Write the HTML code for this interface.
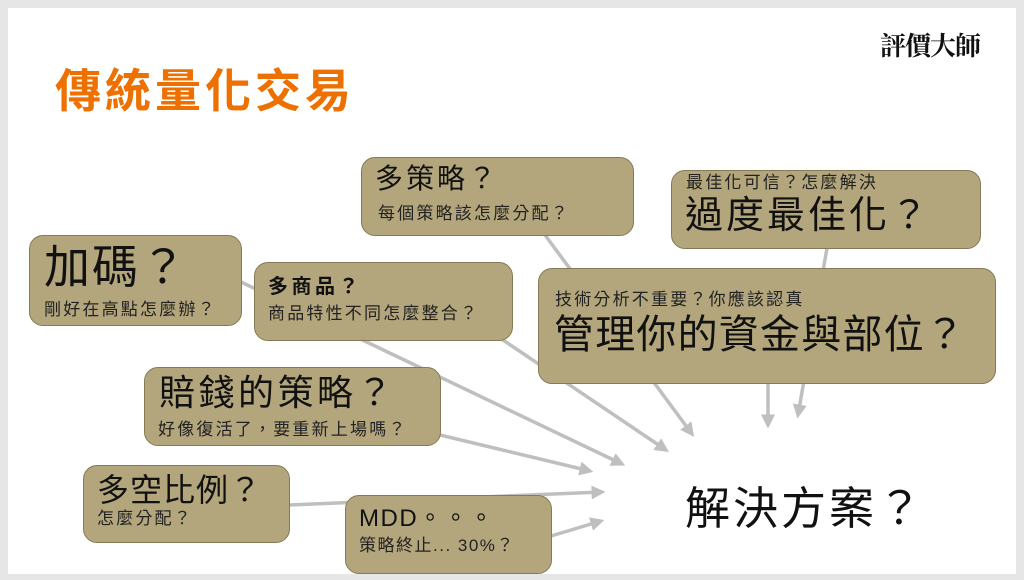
<!DOCTYPE html>
<html><head><meta charset="utf-8"><style>
*{margin:0;padding:0;box-sizing:border-box}
body{width:1024px;height:580px;background:#e6e6e6;position:relative;overflow:hidden;font-family:"Liberation Sans","Noto Sans CJK TC",sans-serif;color:#111}
#slide{position:absolute;left:8px;top:8px;width:1008px;height:566px;background:#fff}
.b{position:absolute;background:#b3a67c;border:1px solid #857a55;border-radius:14px}
.t{position:absolute;white-space:nowrap;line-height:1}
.s{font-size:17px;letter-spacing:2.2px;color:#222}
svg{position:absolute;left:0;top:0}
</style></head><body>
<div id="slide"></div>
<svg width="1024" height="580">
<defs><marker id="a" markerWidth="4" markerHeight="4" refX="3" refY="2" orient="auto" markerUnits="strokeWidth"><path d="M0,0 L4,2 L0,4z" fill="#bfbfbf"/></marker></defs>
<g stroke="#bfbfbf" stroke-width="3.5" fill="none" marker-end="url(#a)">
<line x1="241" y1="282" x2="622" y2="464"/>
<line x1="500" y1="338" x2="666" y2="450"/>
<line x1="545" y1="235" x2="692" y2="434"/>
<line x1="440" y1="435" x2="590" y2="471"/>
<line x1="289" y1="505" x2="602" y2="492"/>
<line x1="551" y1="536" x2="601" y2="521"/>
<line x1="768" y1="383" x2="768" y2="425"/>
<line x1="827" y1="248" x2="798" y2="415"/>
</g>
</svg>
<div class="t" style="left:55px;top:68px;font-size:46px;font-weight:bold;color:#ee7000;letter-spacing:4px">傳統量化交易</div>
<div class="t" style="left:880px;top:32px;font-size:26px;font-family:'Noto Serif CJK SC',serif;font-weight:bold;letter-spacing:-1px">評價大師</div>

<div class="b" style="left:361px;top:157px;width:273px;height:79px"></div>
<div class="t" style="left:375px;top:165px;font-size:28px;letter-spacing:3px">多策略？</div>
<div class="t s" style="left:378px;top:205px">每個策略該怎麼分配？</div>

<div class="b" style="left:671px;top:170px;width:310px;height:79px"></div>
<div class="t s" style="left:686px;top:174px">最佳化可信？怎麼解決</div>
<div class="t" style="left:685px;top:197px;font-size:38px;letter-spacing:3px">過度最佳化？</div>

<div class="b" style="left:29px;top:235px;width:213px;height:91px"></div>
<div class="t" style="left:44px;top:244px;font-size:46px;letter-spacing:2px">加碼？</div>
<div class="t s" style="left:44px;top:301px">剛好在高點怎麼辦？</div>

<div class="b" style="left:254px;top:262px;width:259px;height:79px"></div>
<div class="t" style="left:268px;top:277px;font-size:20px;font-weight:bold;letter-spacing:3.5px">多商品？</div>
<div class="t s" style="left:268px;top:305px">商品特性不同怎麼整合？</div>

<div class="b" style="left:538px;top:268px;width:458px;height:116px"></div>
<div class="t s" style="left:555px;top:291px">技術分析不重要？你應該認真</div>
<div class="t" style="left:554px;top:315px;font-size:40px;letter-spacing:1.2px">管理你的資金與部位？</div>

<div class="b" style="left:144px;top:367px;width:297px;height:79px"></div>
<div class="t" style="left:159px;top:375px;font-size:36px;letter-spacing:3.5px">賠錢的策略？</div>
<div class="t s" style="left:158px;top:421px">好像復活了，要重新上場嗎？</div>

<div class="b" style="left:83px;top:465px;width:207px;height:78px"></div>
<div class="t" style="left:97px;top:474px;font-size:32px;letter-spacing:1px">多空比例？</div>
<div class="t s" style="left:97px;top:510px">怎麼分配？</div>

<div class="b" style="left:345px;top:495px;width:207px;height:79px"></div>
<div class="t" style="left:359px;top:507px;font-size:24px;letter-spacing:1.5px">MDD。。。</div>
<div class="t" style="left:359px;top:537px;font-size:17px;letter-spacing:1.5px;color:#222">策略終止... 30%？</div>

<div class="t" style="left:685px;top:486px;font-size:45px;letter-spacing:3px">解決方案？</div>
</body></html>
